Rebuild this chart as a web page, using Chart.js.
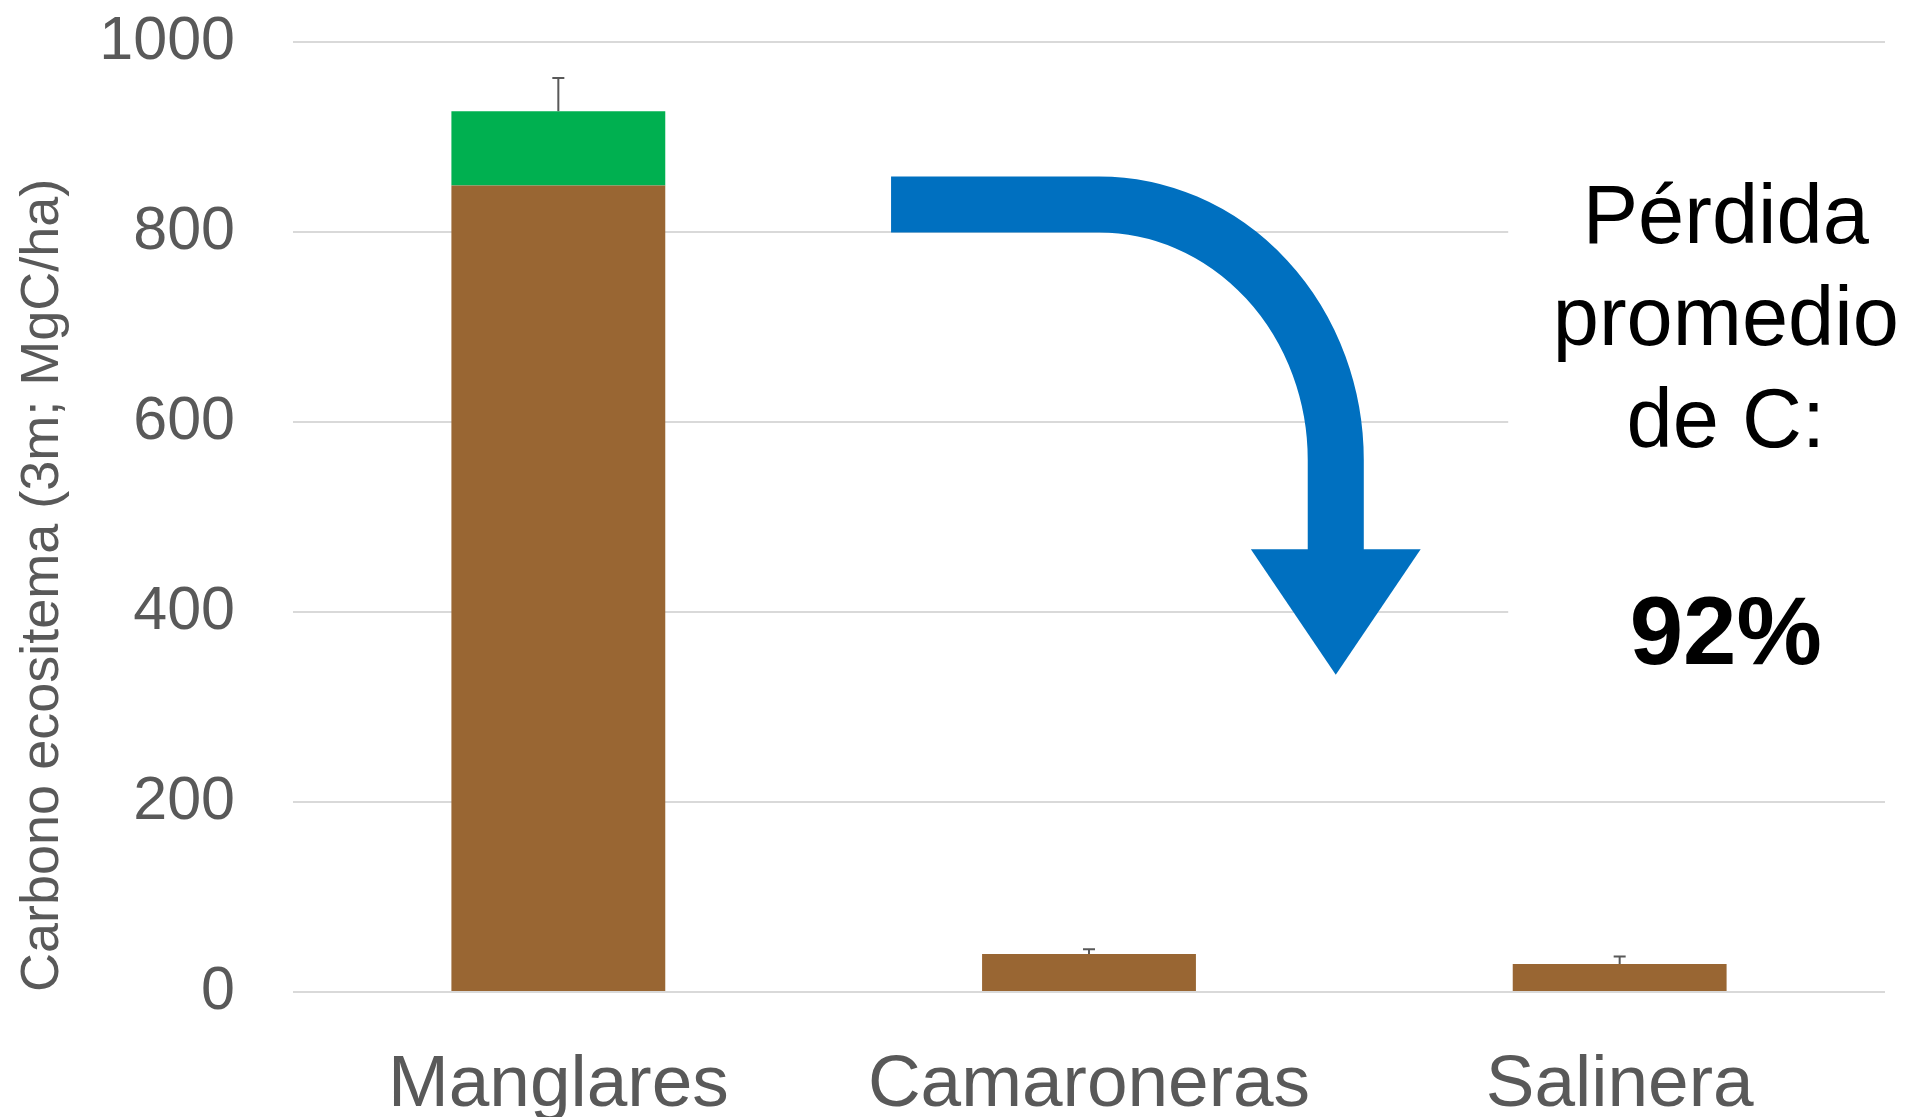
<!DOCTYPE html>
<html>
<head>
<meta charset="utf-8">
<script src="https://cdn.jsdelivr.net/npm/chart.js@4.4.1/dist/chart.umd.min.js"></script>
<style>
  html, body { margin: 0; padding: 0; background: #fff; }
  #wrap { width: 1913px; height: 1117px; }
</style>
</head>
<body>
<div id="wrap"><canvas id="carbonChart" width="1913" height="1117"></canvas></div>
<script>
// Datos: carbono del ecosistema por uso de suelo
const categories = ['Manglares', 'Camaroneras', 'Salinera'];
const soilCarbon = [849, 40, 29.5];   // parte marron
const vegCarbon = [78, 0, 0];         // parte verde (biomasa)
const errorUpper = [35, 5, 8];
const yTicks = [0, 200, 400, 600, 800, 1000];

const noteLines = ['Pérdida', 'promedio', 'de C:'];
const noteValue = '92%';

const grey = '#595959';

// white box + error bars + arrow + text (positions in scale units)
const annotationPlugin = {
  id: 'annotation',
  beforeDatasetsDraw(chart) {
    const x = chart.scales.x, y = chart.scales.y, ctx = chart.ctx;
    ctx.save();
    ctx.fillStyle = '#fff';
    const left = x.getPixelForValue(1.79);
    const top = y.getPixelForValue(890);
    const bottom = y.getPixelForValue(274);
    ctx.fillRect(left, top, chart.width - left, bottom - top);
    ctx.restore();
  },
  afterDatasetsDraw(chart) {
    const x = chart.scales.x, y = chart.scales.y, ctx = chart.ctx;

    // error bars (upper only)
    ctx.save();
    ctx.strokeStyle = grey;
    ctx.lineWidth = 2;
    categories.forEach((c, i) => {
      const top = soilCarbon[i] + vegCarbon[i];
      const px = x.getPixelForValue(i);
      const y0 = y.getPixelForValue(top);
      const y1 = y.getPixelForValue(top + errorUpper[i]);
      ctx.beginPath();
      ctx.moveTo(px, y0);
      ctx.lineTo(px, y1);
      ctx.moveTo(px - 6, y1);
      ctx.lineTo(px + 6, y1);
      ctx.stroke();
    });
    ctx.restore();

    // curved arrow
    const startX = x.getPixelForValue(0.627);
    const cx = x.getPixelForValue(1.019);
    const shaftX = x.getPixelForValue(1.465);
    const cy = y.getPixelForValue(560);
    const barY = y.getPixelForValue(829);
    const rx = shaftX - cx;
    const ry = cy - barY;
    const headY = y.getPixelForValue(466);
    const tipY = y.getPixelForValue(334);
    const thick = y.getPixelForValue(0) - y.getPixelForValue(59);
    const headHalf = x.getPixelForValue(0.16) - x.getPixelForValue(0);

    ctx.save();
    ctx.strokeStyle = '#0070C0';
    ctx.fillStyle = '#0070C0';
    ctx.lineWidth = thick;
    ctx.lineCap = 'butt';
    ctx.beginPath();
    ctx.moveTo(startX, barY);
    ctx.lineTo(cx, barY);
    ctx.ellipse(cx, cy, rx, ry, 0, -Math.PI / 2, 0);
    ctx.lineTo(shaftX, headY + 1);
    ctx.stroke();
    ctx.beginPath();
    ctx.moveTo(shaftX - headHalf, headY);
    ctx.lineTo(shaftX + headHalf, headY);
    ctx.lineTo(shaftX, tipY);
    ctx.closePath();
    ctx.fill();
    ctx.restore();

    // text
    const tx = x.getPixelForValue(2.2);
    ctx.save();
    ctx.fillStyle = '#000';
    ctx.textAlign = 'center';
    ctx.textBaseline = 'middle';
    ctx.font = '83px "Liberation Sans", Arial, sans-serif';
    const lineVals = [812, 705, 598];
    noteLines.forEach((t, i) => ctx.fillText(t, tx, y.getPixelForValue(lineVals[i])));
    ctx.font = 'bold 96px "Liberation Sans", Arial, sans-serif';
    ctx.fillText(noteValue, tx, y.getPixelForValue(373));
    ctx.restore();
  }
};

const ctx = document.getElementById('carbonChart').getContext('2d');
new Chart(ctx, {
  type: 'bar',
  data: {
    labels: categories,
    datasets: [
      { label: 'Suelo', data: soilCarbon, backgroundColor: '#996633', barPercentage: 0.403, categoryPercentage: 1 },
      { label: 'Biomasa', data: vegCarbon, backgroundColor: '#00B050', barPercentage: 0.403, categoryPercentage: 1 }
    ]
  },
  options: {
    responsive: false,
    animation: false,
    layout: { padding: { top: 42, right: 28, left: 0, bottom: 0 } },
    plugins: {
      legend: { display: false },
      tooltip: { enabled: false }
    },
    scales: {
      x: {
        stacked: true,
        grid: { display: false },
        border: { display: false },
        ticks: {
          color: grey,
          padding: 42,
          font: { family: '"Liberation Sans", Arial, sans-serif', size: 73 }
        },
        afterFit(scale) { scale.height = 125; }
      },
      y: {
        stacked: true,
        min: 0,
        max: 1000,
        afterBuildTicks(scale) { scale.ticks = yTicks.map(v => ({ value: v })); },
        grid: { color: '#d9d9d9', lineWidth: 2, drawTicks: true, tickLength: 58, tickColor: 'rgba(0,0,0,0)' },
        border: { display: false },
        ticks: {
          color: grey,
          padding: 0,
          callback: v => String(v),
          font: { family: '"Liberation Sans", Arial, sans-serif', size: 61 }
        },
        title: {
          display: true,
          text: 'Carbono ecositema (3m; MgC/ha)',
          color: grey,
          align: 'start',
          padding: { top: 16, bottom: 0 },
          font: { family: '"Liberation Sans", Arial, sans-serif', size: 54, lineHeight: 1 }
        },
        afterFit(scale) { scale.width = 293; }
      }
    }
  },
  plugins: [annotationPlugin]
});
</script>
</body>
</html>
